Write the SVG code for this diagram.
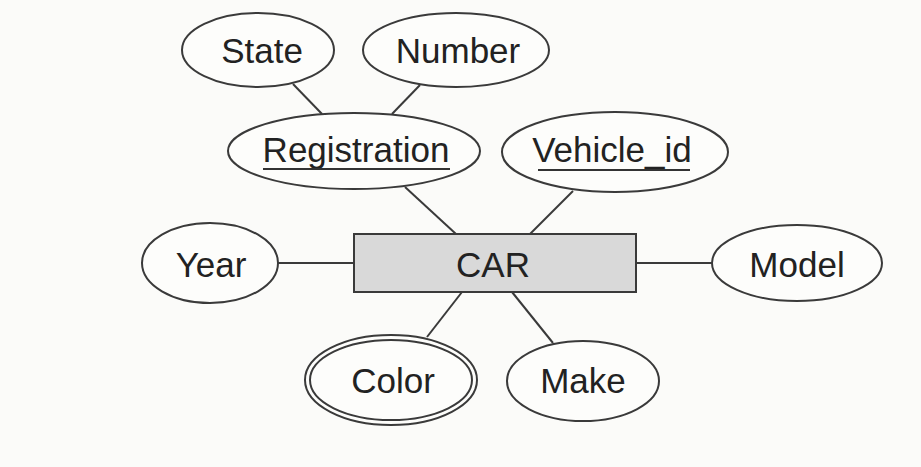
<svg xmlns="http://www.w3.org/2000/svg" width="921" height="467" viewBox="0 0 921 467">
<style>
.bg{fill:#fbfbf9}
.attr{fill:#fdfdfb;stroke:#3a3a3a;stroke-width:2}
.ent{fill:#d9d9d9;stroke:#3a3a3a;stroke-width:2}
.t{font-family:"Liberation Sans",Arial,sans-serif;font-size:35px;fill:#222;text-anchor:middle}
.u{stroke:#333;stroke-width:2}
#connectors line{stroke:#3a3a3a;stroke-width:2}
</style>
<rect class="bg" x="0" y="0" width="921" height="467"/>
<g id="connectors">
<line x1="293" y1="84" x2="322" y2="114"/>
<line x1="420" y1="85" x2="392" y2="114"/>
<line x1="405" y1="187" x2="456" y2="234"/>
<line x1="573" y1="191" x2="530" y2="234"/>
<line x1="278" y1="263" x2="354" y2="263"/>
<line x1="636" y1="263" x2="712" y2="263"/>
<line x1="462" y1="292" x2="427" y2="337"/>
<line x1="512" y1="292" x2="553" y2="343"/>
</g>
<g id="state"><ellipse class="attr" cx="258" cy="50" rx="76" ry="37"/><text class="t" x="262" y="63">State</text></g>
<g id="number"><ellipse class="attr" cx="456" cy="50" rx="93" ry="37"/><text class="t" x="458" y="63">Number</text></g>
<g id="registration"><ellipse class="attr" cx="354" cy="151" rx="126" ry="38"/><text class="t" x="356" y="162">Registration</text><line class="u" x1="263" y1="169" x2="450" y2="169"/></g>
<g id="vehicle_id"><ellipse class="attr" cx="615" cy="152" rx="113" ry="40"/><text class="t" x="612" y="162">Vehicle_id</text><line class="u" x1="538" y1="170" x2="690" y2="170"/></g>
<g id="car"><rect class="ent" x="354" y="234" width="282" height="58"/><text class="t" x="493" y="277">CAR</text></g>
<g id="year"><ellipse class="attr" cx="210" cy="263" rx="68" ry="40"/><text class="t" x="211" y="277">Year</text></g>
<g id="model"><ellipse class="attr" cx="797" cy="263" rx="85" ry="38"/><text class="t" x="797" y="277">Model</text></g>
<g id="color"><ellipse class="attr" cx="391" cy="380" rx="86" ry="45"/><ellipse class="attr" cx="391" cy="380" rx="81" ry="40"/><text class="t" x="393" y="393">Color</text></g>
<g id="make"><ellipse class="attr" cx="583" cy="381" rx="76" ry="40"/><text class="t" x="583" y="393">Make</text></g>
</svg>
